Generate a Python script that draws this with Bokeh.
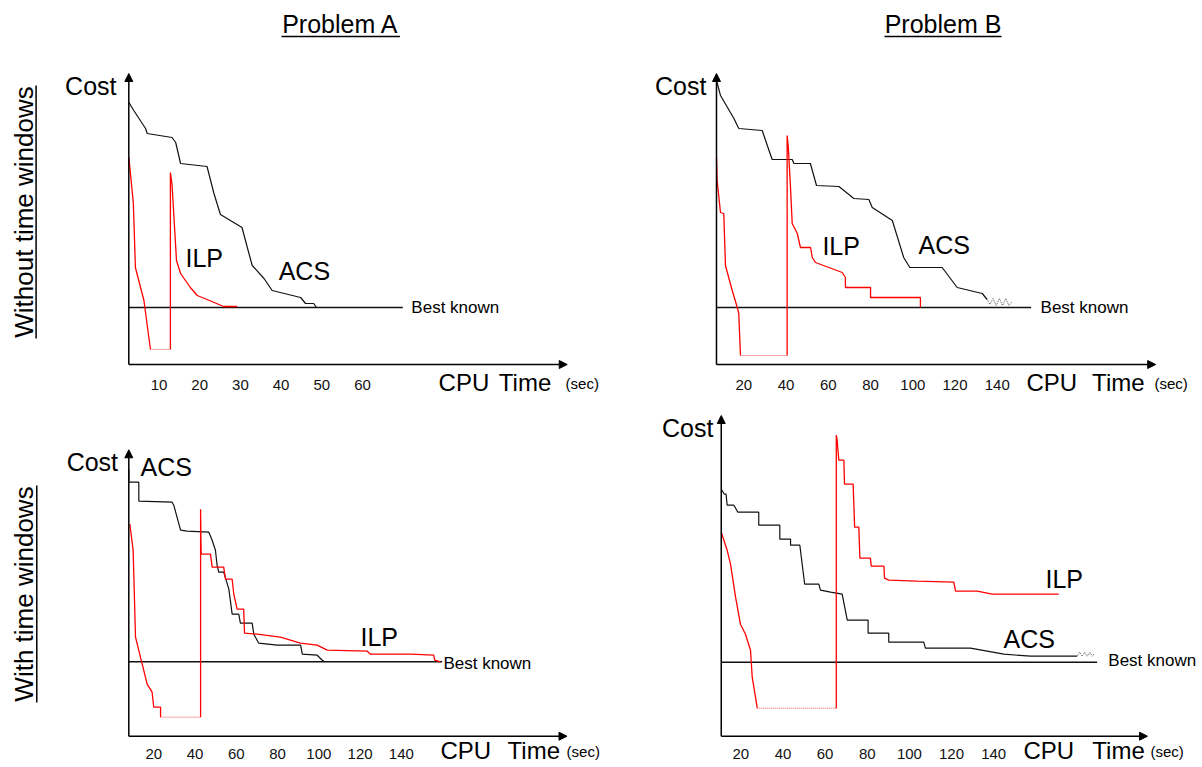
import numpy as np
from bokeh.plotting import figure
from bokeh.models import Range1d, Arrow, NormalHead
from bokeh.layouts import column, row
from bokeh.embed import file_html
from bokeh.resources import INLINE
from bokeh.core.properties import value

FONT = "Liberation Sans"

# ---------------- data (time in s, cost in arbitrary units, x-axis = 0) ----------------
# Problem A - without time windows
a1_ticks = [10, 20, 30, 40, 50, 60]
a1_best = 57
a1_acs_t = [2.6, 3.8, 6.7, 7.1, 13.2, 14.1, 15.3, 21.8, 23.5, 25.1, 30.4, 31.7, 32.9, 35.8, 37.8, 44.8, 46.0, 48.0, 48.7]
a1_acs_c = [262, 254, 236, 231, 227, 222, 201, 198, 171, 150, 137, 117, 99, 86, 74, 67, 61, 61, 57]
a1_ilp1_t = [2.6, 3.7, 4.2, 6.3, 7.9]
a1_ilp1_c = [207, 161, 97, 64, 15]
a1_ilp2_t = [12.8, 12.8, 13.2, 14.3, 15.3, 17.7, 19.4, 21.8, 25.9, 29.2]
a1_ilp2_c = [15, 192, 180, 104, 91, 77, 69, 65, 58, 58]

# Problem B - without time windows
b1_ticks = [20, 40, 60, 80, 100, 120, 140]
b1_best = 57
b1_acs_t = [7.05, 8.95, 15.3, 17.6, 28.7, 30.3, 33.4, 42.9, 43.7, 51.5, 54.4, 65.0, 72.1, 79.2, 80.8, 90.3, 95.7, 98.6, 113.9, 121.0, 132.9, 135.2]
b1_acs_c = [284, 269, 246, 236, 234, 224, 205, 205, 201, 201, 179, 178, 166, 165, 157, 144, 107, 97, 97, 77, 71, 65]
b1_tail_t = [135.2, 136.5, 138.0, 139.5, 141.0, 142.5, 144.0, 145.5, 147.0]
b1_tail_c = [65, 60, 66, 59, 66, 59, 66, 59, 63]
b1_ilp1_t = [7.05, 7.35, 8.95, 10.5, 11.3, 14.5, 16.9, 17.6, 18.4]
b1_ilp1_c = [207, 184, 152, 151, 99, 74, 57, 51, 9]
b1_ilp2_t = [40.5, 40.5, 41.0, 42.1, 42.9, 45.3, 46.8, 51.6, 52.4, 53.9, 66.6, 68.1, 68.1, 80.0, 80.0, 103.6, 103.6]
b1_ilp2_c = [9, 229, 219, 177, 141, 131, 117, 117, 107, 102, 92, 87, 77, 77, 67, 67, 57]

# Problem A - with time windows
a2_ticks = [20, 40, 60, 80, 100, 120, 140]
a2_best = 74.4
a2_acs_t = [7.9, 7.9, 12.75, 12.75, 28.9, 29.7, 33.0, 36.2, 46.7, 48.3, 49.9, 50.7, 51.5, 53.9, 56.4, 58.0, 61.2, 62.0, 67.7, 68.5, 70.9, 79.8, 91.2, 92.0, 99.2, 101.7, 102.8]
a2_acs_c = [267, 254, 254, 235, 234, 231, 206, 205, 204, 196, 186, 171, 164, 164, 147, 122, 122, 113, 113, 102, 93, 91, 91, 82, 81, 76, 74.4]
a2_ilp1_t = [8.4, 10.0, 11.15, 14.4, 16.8, 19.2, 20.0, 23.3, 23.3]
a2_ilp1_c = [212, 186, 99, 72, 52, 44, 29, 29, 19]
a2_ilp2_t = [42.7, 42.7, 42.9, 43.0, 47.5, 48.3, 53.9, 54.8, 58.0, 58.8, 60.4, 63.6, 64.0, 70.1, 81.4, 91.1, 99.2, 104.1, 123.5, 125.1, 144.5, 155.7, 156.2, 159.0]
a2_ilp2_c = [19, 227, 194, 182, 182, 169, 169, 157, 157, 142, 127, 127, 103, 102, 99, 93, 91, 86, 85, 82, 82, 81, 76, 74.4]

# Problem B - with time windows
b2_ticks = [20, 40, 60, 80, 100, 120, 140]
b2_best = 74.0
b2_acs_t = [10.7, 12.2, 13.0, 13.5, 16.7, 18.6, 28.5, 28.5, 38.5, 38.5, 43.6, 43.6, 48.0, 50.3, 57.0, 57.8, 62.6, 68.1, 70.5, 80.4, 80.4, 90.2, 90.2, 106.8, 107.6, 129.0, 144.8, 157.5, 179.6]
b2_acs_c = [247, 242, 242, 231, 231, 224, 224, 211, 211, 197, 197, 191, 191, 152, 152, 146, 144, 142, 116, 116, 103, 103, 94, 94, 88, 88, 82, 80, 80]
b2_tail_t = [179.6, 180.8, 182.0, 183.2, 184.4, 185.6, 186.8, 187.5]
b2_tail_c = [80, 84, 80, 84, 80, 84, 80, 82]
b2_ilp1_t = [10.7, 13.5, 15.1, 17.5, 19.8, 22.2, 24.6, 25.4, 27.8]
b2_ilp1_c = [204, 186, 172, 139, 112, 102, 86, 59, 28]
b2_ilp2_t = [65.3, 65.3, 65.7, 66.5, 68.9, 69.2, 73.3, 73.6, 74.0, 76.0, 76.5, 81.5, 81.9, 87.9, 88.2, 90.2, 103.7, 121.1, 121.9, 132.2, 139.3, 170.9]
b2_ilp2_c = [28, 301, 296, 276, 276, 252, 252, 234, 209, 209, 178, 178, 170, 170, 158, 156, 155, 154, 145, 145, 142, 142]

# ---------------- layout helpers ----------------
BLACK = "#111111"
RED = "#ff0000"


def make_panel(box, px0, sx, axis_py):
    left, top, w, h = box
    p = figure(width=w, height=h,
               x_range=Range1d((left - px0) / sx, (left + w - px0) / sx),
               y_range=Range1d(axis_py - (top + h), axis_py - top),
               x_axis_type=None, y_axis_type=None,
               toolbar_location=None, output_backend="svg",
               min_border=0, outline_line_color=None,
               background_fill_color="white", border_fill_color="white")
    return p


def txt(p, x, y, s, size, align="left", angle=0.0):
    p.text(x=[x], y=[y], text=[s], text_font=value(FONT), text_font_size=size,
           text_align=align, text_baseline="middle", text_color="black",
           angle=angle)


def draw(p, y_axis_t, y_top, x_end, best, best_end, acs_t, acs_c, ilp1_t, ilp1_c,
         ilp2_t, ilp2_c, ticks, tick_c, tail_t=None, tail_c=None):
    # axes with arrow heads
    for xs, ys, xe, ye in [(y_axis_t, 0, y_axis_t, y_top), (y_axis_t, 0, x_end, 0)]:
        p.add_layout(Arrow(end=NormalHead(size=8, fill_color="black", line_color="black", line_width=1),
                           x_start=xs, y_start=ys, x_end=xe, y_end=ye,
                           line_color="black", line_width=1.5))
    # best known
    p.line([y_axis_t, best_end], [best, best], line_color=BLACK, line_width=1.4)
    # ACS
    p.line(acs_t, acs_c, line_color=BLACK, line_width=1.2)
    if tail_t is not None:
        p.line(tail_t, tail_c, line_color="#555555", line_width=1, line_dash="1 1")
    # ILP
    p.line(ilp1_t, ilp1_c, line_color=RED, line_width=1.3)
    p.line([ilp1_t[-1], ilp2_t[0]], [ilp1_c[-1], ilp2_c[0]], line_color="#ff5050",
           line_width=1, line_dash="1 1")
    p.line(ilp2_t, ilp2_c, line_color=RED, line_width=1.3)
    # tick labels
    p.text(x=ticks, y=[tick_c] * len(ticks), text=[str(v) for v in ticks],
           text_font=value(FONT), text_font_size="15px", text_align="center",
           text_baseline="middle", text_color="#111111")


# ---------------- Problem A, without time windows ----------------
tl = make_panel((0, 0, 600, 405), 117.8, 4.07, 364)
draw(tl, 2.58, 291, 110.3, a1_best, 69.9, a1_acs_t, a1_acs_c, a1_ilp1_t, a1_ilp1_c,
     a1_ilp2_t, a1_ilp2_c, a1_ticks, -20)
txt(tl, 54.6, 341, "Problem A", "25px", "center")
tl.line([40.1, 69.2], [328, 328], line_color="black", line_width=1.5)
txt(tl, -23.2, 152.5, "Without time windows", "26px", "center", np.pi / 2)
tl.line([-20.2, -20.2], [26, 279], line_color="black", line_width=1.5)
txt(tl, -0.44, 279, "Cost", "25px", "right")
txt(tl, 16.5, 106.5, "ILP", "25px")
txt(tl, 39.4, 94, "ACS", "25px")
txt(tl, 72.0, 57, "Best known", "17px")
txt(tl, 78.7, -18, "CPU", "24px")
txt(tl, 93.5, -18, "Time", "24px")
txt(tl, 109.9, -19, "(sec)", "15px")

# ---------------- Problem B, without time windows ----------------
tr = make_panel((600, 0, 602, 405), 701.1, 2.112, 364)
draw(tr, 7.05, 291, 215, b1_best, 156, b1_acs_t, b1_acs_c, b1_ilp1_t, b1_ilp1_c,
     b1_ilp2_t, b1_ilp2_c, b1_ticks, -20, b1_tail_t, b1_tail_c)
txt(tr, 114.3, 341, "Problem B", "25px", "center")
tr.line([86.6, 142.0], [328, 328], line_color="black", line_width=1.5)
txt(tr, 2.3, 279, "Cost", "25px", "right")
txt(tr, 57.2, 119, "ILP", "25px")
txt(tr, 102.7, 120, "ACS", "25px")
txt(tr, 160.5, 57, "Best known", "17px")
txt(tr, 153.8, -18, "CPU", "24px")
txt(tr, 184.9, -18, "Time", "24px")
txt(tr, 214.4, -19, "(sec)", "15px")

# ---------------- Problem A, with time windows ----------------
bl = make_panel((0, 405, 600, 362), 112.0, 2.063, 735.7)
draw(bl, 7.9, 286.4, 220.3, a2_best, 159.8, a2_acs_t, a2_acs_c, a2_ilp1_t, a2_ilp1_c,
     a2_ilp2_t, a2_ilp2_c, a2_ticks, -17.6)
txt(bl, -42.9, 142.2, "With time windows", "26px", "center", np.pi / 2)
bl.line([-36.7, -36.7], [33.7, 250.7], line_color="black", line_width=1.5)
txt(bl, 2.7, 274.2, "Cost", "25px", "right")
txt(bl, 13.6, 269.2, "ACS", "25px")
txt(bl, 120.2, 99.7, "ILP", "25px")
txt(bl, 160.4, 72.7, "Best known", "17px")
txt(bl, 159.0, -14.5, "CPU", "24px")
txt(bl, 191.5, -14.5, "Time", "24px")
txt(bl, 220.1, -15.5, "(sec)", "15px")

# ---------------- Problem B, with time windows ----------------
br = make_panel((600, 405, 602, 362), 698.2, 2.107, 735.7)
draw(br, 10.7, 320.7, 213, b2_best, 189.1, b2_acs_t, b2_acs_c, b2_ilp1_t, b2_ilp1_c,
     b2_ilp2_t, b2_ilp2_c, b2_ticks, -17.6, b2_tail_t, b2_tail_c)
txt(br, 7.0, 308.2, "Cost", "25px", "right")
txt(br, 164.6, 157.7, "ILP", "25px")
txt(br, 144.7, 97.2, "ACS", "25px")
txt(br, 194.4, 75.7, "Best known", "17px")
txt(br, 154.1, -14.5, "CPU", "24px")
txt(br, 186.8, -14.5, "Time", "24px")
txt(br, 214.4, -15.5, "(sec)", "15px")

layout = column(row(tl, tr, spacing=0), row(bl, br, spacing=0), spacing=0)
open("out.html", "w").write(file_html(layout, INLINE))
